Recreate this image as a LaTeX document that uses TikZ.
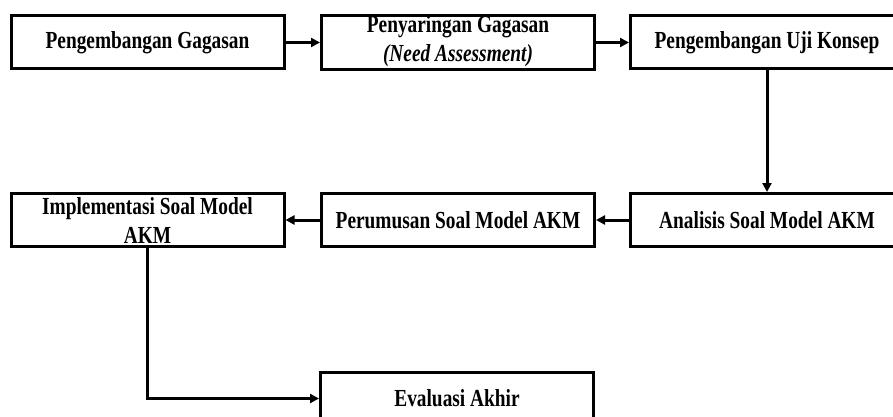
\documentclass[tikz,border=0pt]{standalone}
\usepackage{fontspec}
\setmainfont{Liberation Serif}[FakeStretch=0.79]
\usepackage{tikz}
\usetikzlibrary{arrows.meta}

\begin{document}
\begin{tikzpicture}[
  x=1pt,y=-1pt,
  font=\fontsize{24.5}{29}\selectfont\bfseries,
  stage/.style={draw,line width=3pt,align=center,inner sep=0pt,minimum width=273pt,minimum height=53pt},
  flow/.style={-{Triangle[length=9pt,width=9pt]},line width=3pt}
]
% page frame, the right and bottom boxes run past it
\useasboundingbox (0,0) rectangle (893,417);
\clip (0,0) rectangle (893,417);

% fixed column and row positions
\def\colA{147.5}
\def\colB{458}
\def\colC{767}

% first row
\node[stage] (ideas)   at (\colA,42.5) {Pengembangan Gagasan};
\node[stage] (screen)  at (\colB,42.5) {Penyaringan Gagasan\\\underline{\textit{(Need Assessment)}}};
\node[stage] (concept) at (\colC,42.5) {Pengembangan Uji Konsep};

% second row
\node[stage] (impl)     at (\colA,220) {Implementasi Soal Model\\AKM};
\node[stage] (formula)  at (\colB,220) {Perumusan Soal Model AKM};
\node[stage] (analysis) at (\colC,220) {Analisis Soal Model AKM};

% last step
\node[stage] (final) at (457,398.5) {Evaluasi Akhir};

% connectors
\draw[flow] (ideas) -- (screen);
\draw[flow] (screen) -- (concept);
\draw[flow] (concept) -- (analysis);
\draw[flow] (analysis) -- (formula);
\draw[flow] (formula) -- (impl);
\draw[flow] (impl.south) |- (final.west);
\end{tikzpicture}
\end{document}
